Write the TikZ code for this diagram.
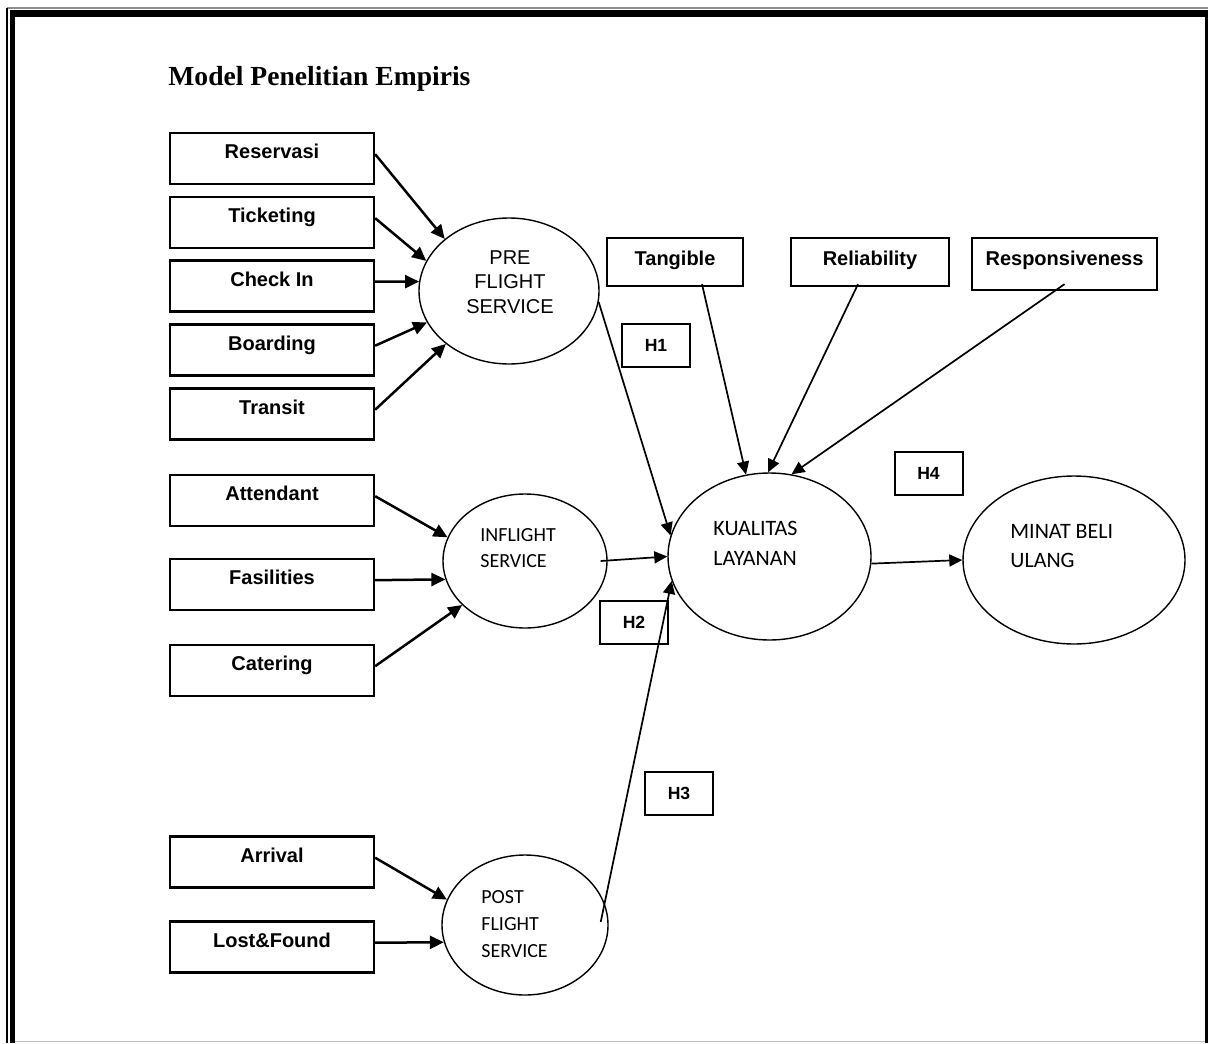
\documentclass[tikz,border=0pt]{standalone}
\usepackage{fontspec}
\newfontfamily\titlefont{Liberation Serif}
\newfontfamily\arial{Liberation Sans}
\newfontfamily\calibri{Carlito}
\usetikzlibrary{shapes.geometric,arrows.meta}

\begin{document}
\begin{tikzpicture}[x=0.5pt, y=-0.5pt,
  var/.style={rectangle, draw, line width=1.15pt, inner sep=0pt,
              minimum width=102pt, text height=12.75pt, text depth=12.75pt,
              font=\arial\bfseries},
  dim/.style={rectangle, draw, line width=1.15pt, inner sep=0pt,
              text height=13.6pt, text depth=10.4pt, font=\arial\bfseries},
  hyp/.style={rectangle, draw, line width=1pt, minimum width=34pt,
              minimum height=21.5pt,
              font=\arial\bfseries\fontsize{8.8}{10}\selectfont},
  latent/.style={ellipse, draw, line width=0.7pt, inner sep=0pt},
  ltext/.style={anchor=base west, align=left, inner sep=0pt},
  arrow/.style={-{Triangle[length=7pt, width=6.5pt]}, line width=1.25pt},
  link/.style={-{Triangle[length=6.5pt, width=6pt]}, line width=0.85pt}
]
\useasboundingbox (0,0) rectangle (1208,1043);
% frame
\draw[line width=0.6pt, black!45] (7,8) -- (1208,8);
\draw[line width=0.8pt] (7,8) -- (7,1043);
\draw[line width=3.5pt] (10,13.5) -- (1208,13.5);
\draw[line width=2.5pt] (12.5,10) -- (12.5,1043);
\draw[line width=1.5pt] (1206.5,17) -- (1206.5,1043);
\draw[line width=0.5pt, black!25] (15,1041) -- (1205,1041);

\node[anchor=base west, inner sep=0pt,
      font=\titlefont\bfseries\fontsize{13.8}{16}\selectfont] (title) at (168,86) {Model Penelitian Empiris};

% indicators
\node[var] (res) at (272,158.5) {Reservasi};
\node[var] (tic) at (272,222.5) {Ticketing};
\node[var] (chk) at (272,286) {Check In};
\node[var] (brd) at (272,350) {Boarding};
\node[var] (trn) at (272,414) {Transit};
\node[var] (att) at (272,500.5) {Attendant};
\node[var] (fas) at (272,584.5) {Fasilities};
\node[var] (cat) at (272,670.5) {Catering};
\node[var] (arr) at (272,862) {Arrival};
\node[var] (lf) at (272,947) {Lost\&Found};

\node[dim, minimum width=68pt] (tang) at (675,262) {Tangible};
\node[dim, minimum width=79pt] (reli) at (870,262) {Reliability};
\node[dim, minimum width=92.5pt, text depth=12.4pt] (resp) at (1064.5,264) {Responsiveness};

% hypotheses
\node[hyp] (h1) at (656,345.5) {H1};
\node[hyp] (h2) at (634,622.5) {H2};
\node[hyp] (h3) at (679,793.5) {H3};
\node[hyp] (h4) at (928.5,473.5) {H4};

% constructs
\node[latent, minimum width=90pt, minimum height=73pt] (pre) at (509,291) {};
\node[latent, minimum width=82pt, minimum height=67pt] (infl) at (525,561) {};
\node[latent, minimum width=83pt, minimum height=70pt] (post) at (525,925) {};
\node[latent, minimum width=101.5pt, minimum height=83.5pt] (kual) at (769.5,556.5) {};
\node[latent, minimum width=111pt, minimum height=84pt] (minat) at (1074,560) {};

% base = last line
\node[ltext, anchor=base, align=center, font=\arial\fontsize{10}{12.25}\selectfont] (pre-t) at (510,313) {PRE\\FLIGHT\\SERVICE};
\node[ltext, font=\calibri\fontsize{10}{13}\selectfont] (infl-t) at (480,567.5) {INFLIGHT\\SERVICE};
\node[ltext, font=\calibri\fontsize{10}{13.5}\selectfont] (post-t) at (481,957.5) {POST\\FLIGHT\\SERVICE};
\node[ltext, font=\calibri\fontsize{11}{14.75}\selectfont] (kual-t) at (713,565) {KUALITAS\\LAYANAN};
\node[ltext, font=\calibri\fontsize{11}{14.5}\selectfont] (minat-t) at (1010,567.5) {MINAT BELI\\ULANG};

% paths
\draw[arrow] (res.mid east) -- (pre.141);
\draw[arrow] (tic.mid east) -- (pre.160);
\draw[arrow] (chk.mid east) -- (pre.174);
\draw[arrow] (brd.mid east) -- (pre.201);
\draw[arrow] (trn.mid east) -- (pre.220);
\draw[arrow] (att.mid east) -- (infl.163);
\draw[arrow] (fas.mid east) -- (infl.193);
\draw[arrow] (cat.mid east) -- (infl.215);
\draw[arrow] (arr.mid east) -- (post.162);
\draw[arrow] (lf.mid east) -- (post.192);

\draw[link] (pre.353) -- (kual.168);
\draw[link] ([xshift=-3.5pt]infl.east) -- (kual.west);
\draw[link] ([xshift=-4pt, yshift=1.5pt]post.east) -- (kual.194);
\draw[link] ([xshift=13.5pt, yshift=1.5pt]tang.south) -- (kual.106);
\draw[link] ([xshift=-6pt, yshift=1.5pt]reli.south) -- (kual.91);
\draw[link] ([yshift=3.5pt]resp.south) -- (kual.75);
\draw[link] (kual.356) -- (minat.west);
\end{tikzpicture}
\end{document}
